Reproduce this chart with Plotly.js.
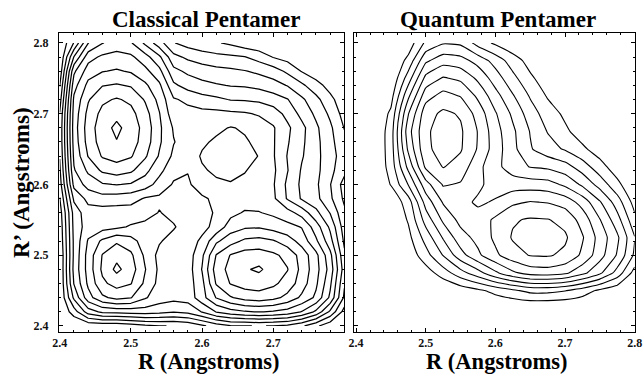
<!DOCTYPE html>
<html><head><meta charset="utf-8">
<script src="https://cdn.plot.ly/plotly-3.0.1.min.js"></script>
<style>html,body{margin:0;padding:0;background:#fff;} #chart{width:644px;height:377px;}</style>
</head><body><div id="chart"></div>
<script>
// ---- text ----
const panelTitles = ['Classical Pentamer', 'Quantum Pentamer'];
const xTitle = 'R (Angstroms)';
const yTitle = 'R’ (Angstroms)';

// ---- Classical pentamer: grid (Angstroms) and contour-level values, one row per R' ----
const classicalR = [2.40,2.42,2.44,2.46,2.48,2.50,2.52,2.54,2.56,2.58,2.60,2.62,2.64,2.66,2.68,2.70,2.72,2.74,2.76,2.78,2.80];
const c240 = [0,0,0.2,0.3,0.3,0.5,0.8,0.95,1.05,1.2,1.8,2.5,2.9,2.95,3.05,2.95,2.8,2.2,1.2,0.3,0];
const c242 = [0,1.5,3.5,4.2,4.3,4.4,4.5,4.3,4.05,4.3,5.05,6.05,6.6,6.9,7.05,6.9,6.6,5.95,4.8,2.8,0.6];
const c244 = [0,3.2,5.6,6.8,7.3,7.05,6.1,5.5,5.3,5.4,6.6,8.05,8.9,9.4,9.55,9.3,8.7,7.8,6.8,4.8,1.8];
const c246 = [0,4.05,6.2,7.8,8.35,8.05,6.8,5.7,5.4,5.5,6.7,9.1,10.05,10.4,10.5,10.2,9.6,8.5,7.2,5.2,2.1];
const c248 = [0,4.3,6.4,8.2,9.25,8.5,7.05,5.8,5.4,5.5,7.05,9.5,10.3,10.9,11.15,10.6,10.05,8.7,7.4,5.6,2.5];
const c250 = [0,4.2,6.4,8.05,8.7,8.2,6.8,5.7,5.4,5.5,6.8,9.05,10.05,10.45,10.5,10.2,9.7,8.6,7.3,5.3,2.2];
const c252 = [0.2,4.2,6.1,7.2,7.85,7.4,6.5,6.1,5.6,5.5,6.2,7.8,8.6,9.2,9.35,9.1,8.5,7.6,6.2,4.4,1.8];
const c254 = [0.3,4.3,5.5,5.6,5.8,6.1,6.3,6.3,6.1,5.5,5.7,6.3,7.5,7.85,7.9,7.6,7.3,6.95,5.5,3.8,1.5];
const c256 = [0.5,4.4,5.6,5.5,5.5,5.5,5.6,6.05,5.7,5.5,5.7,6.1,6.7,7.1,7.05,6.8,6.4,5.6,4.3,2.95,1.2];
const c258 = [0.95,5.2,6.3,6.6,6.5,6.4,5.9,5.8,5.6,5.6,5.85,6.2,6.4,6.5,6.5,6.2,4.9,3.9,3.3,2.2,0.8];
const c260 = [1.5,6.3,7.4,7.9,8.05,7.9,7.5,6.6,5.9,5.85,6.5,6.85,6.95,6.8,6.6,6.1,4.8,3.8,3.2,2.05,0.6];
const c262 = [1.8,6.9,8.2,9.2,9.5,9.2,8.3,7.3,6.3,6.05,6.9,7.15,7.2,7.05,6.7,6.2,5.05,3.9,3.3,2.3,1.3];
const c264 = [2.05,7.2,9.05,10.1,10.4,10.1,9.15,7.9,6.8,6.5,7.1,7.3,7.35,7.2,6.98,6.1,4.95,4.1,3.3,2.4,1.5];
const c266 = [2.2,7.4,9.4,10.45,10.95,10.45,9.55,8.15,7.05,6.55,6.85,7.15,7.25,7.1,6.8,6.1,5.1,4.2,3.3,2.3,1.3];
const c268 = [2.2,7.5,9.5,10.55,11.25,10.55,9.65,8.2,6.9,6.5,6.6,6.8,7.05,6.9,6.5,6.1,5.2,4.3,3.2,2.2,0.95];
const c270 = [2.05,7.4,9.3,10.3,10.7,10.3,9.4,8.05,6.4,6.3,6.3,6.3,6.2,6.1,5.9,5.5,4.7,3.7,2.8,1.8,0.6];
const c272 = [1.5,7.2,8.9,9.8,10.1,9.8,8.9,7.7,6.1,5.8,5.4,5.2,4.95,4.9,4.8,4.5,4.05,3.2,2.3,1.3,0.3];
const c274 = [0.95,6.6,8.3,8.95,9.1,8.9,8.2,7.2,5.2,4.6,4.3,4.1,3.95,3.9,3.7,3.4,2.95,2.2,1.4,0.6,0];
const c276 = [0.3,5.8,7.5,7.95,8.1,7.9,7.3,6.3,4.3,3.8,3.5,3.3,3.2,3.05,2.8,2.5,1.8,0.95,0.4,0,0];
const c278 = [0,4.05,6.6,7.2,7.4,7.2,6.4,5.2,3.3,2.8,2.5,2.3,2.2,2.05,1.6,0.95,0.6,0.2,0,0,0];
const c280 = [0,2.05,4.95,5.95,6.4,6.1,4.8,3.4,2.05,1.6,1.3,1.1,0.8,0.4,0.2,0,0,0,0,0,0];

// ---- Quantum pentamer ----
const quantumR = [2.400,2.425,2.450,2.475,2.500,2.525,2.550,2.575,2.600,2.625,2.650,2.675,2.700,2.725,2.750,2.775,2.800];
const q2400 = [0,0,0,0,0,0,0,0,0,0,0,0,0,0,0,0,0];
const q2425 = [0,0,0,0,0,0,0,0,0,0,0,0,0,0,0,0,0];
const q2450 = [0,0,0,0,0,0,0.4,0.8,1.3,1.8,2.3,2.3,2.05,1.5,0.8,0.3,0];
const q2475 = [0,0,0,0,0.5,1.5,2.6,3.6,4.8,5.8,6.4,6.5,6.2,5.3,4.2,2.6,0.6];
const q2500 = [0,0,0,0.3,1.6,3.05,4.6,5.8,6.8,7.6,8.05,8.1,7.8,6.8,5.4,3.9,1.8];
const q2525 = [0,0,0,0.7,2.4,4.1,5.6,6.3,7.2,8.1,8.45,8.4,8.15,7.1,5.6,4.2,2.05];
const q2550 = [0,0,0,1.1,3.4,5.2,6.3,6.4,7.2,7.9,8.1,8.05,7.7,6.6,5.05,3.4,1.3];
const q2575 = [0,0,0.2,1.5,4.4,6.1,6.3,5.85,6.1,6.8,7.05,6.95,6.6,5.6,4.1,2.5,0.6];
const q2600 = [0,0,1.05,3.05,5.6,7.1,6.9,6.2,5.6,5.5,5.5,5.4,4.8,3.8,2.6,1.3,0];
const q2625 = [0,0,1.4,4.3,7.2,8.05,7.6,6.3,5.3,4.5,3.95,3.8,3.4,2.5,1.4,0.4,0];
const q2650 = [0,0,1.5,5.2,7.8,8.35,8.1,6.9,5.5,4.3,3.1,2.4,1.9,1.2,0.5,0,0];
const q2675 = [0,0,1.5,5.6,7.85,8.38,8.15,6.95,5.4,4.2,2.95,1.95,1.2,0.5,0.1,0,0];
const q2700 = [0,0,1.2,4.95,7.6,8.2,7.9,6.6,5.1,3.8,2.5,1.5,0.8,0.2,0,0,0];
const q2725 = [0,0,0.6,3.8,6.6,7.35,6.95,5.8,4.4,3.1,1.9,0.9,0.3,0,0,0,0];
const q2750 = [0,0,0.1,2.5,5.3,6.1,5.8,4.8,3.5,2.3,1.2,0.4,0,0,0,0,0];
const q2775 = [0,0,0,1.3,3.8,4.6,4.4,3.6,2.6,1.5,0.6,0.1,0,0,0,0,0];
const q2800 = [0,0,0,0.4,2.2,2.9,2.8,1.6,0.8,0.2,0,0,0,0,0,0,0];

const classicalZ = [c240,c242,c244,c246,c248,c250,c252,c254,c256,c258,c260,c262,c264,c266,c268,c270,c272,c274,c276,c278,c280];
const quantumZ = [q2400,q2425,q2450,q2475,q2500,q2525,q2550,q2575,q2600,q2625,q2650,q2675,q2700,q2725,q2750,q2775,q2800];

const black = [[0,'#000'],[1,'#000']];
const traces = [
  {type:'contour', x:classicalR, y:classicalR, z:classicalZ, xaxis:'x', yaxis:'y',
   autocontour:false, contours:{coloring:'lines', start:1, end:11, size:1, showlabels:false},
   line:{width:1.25, smoothing:0}, colorscale:black, showscale:false, hoverinfo:'skip'},
  {type:'contour', x:quantumR, y:quantumR, z:quantumZ, xaxis:'x2', yaxis:'y2',
   autocontour:false, contours:{coloring:'lines', start:1, end:8, size:1, showlabels:false},
   line:{width:1.1, smoothing:0.4}, colorscale:black, showscale:false, hoverinfo:'skip'}
];

const serif = 'Liberation Serif, Times New Roman, serif';
const axisBase = {
  showline:true, mirror:'allticks', linecolor:'#000', linewidth:1,
  ticks:'inside', ticklen:4, tickwidth:1, tickcolor:'#000',
  tickmode:'linear', tick0:2.4, dtick:0.1,
  minor:{ticks:'inside', ticklen:2, tickcolor:'#000', dtick:0.02},
  showgrid:false, zeroline:false, ticklabeloverflow:'allow',
  tickfont:{family:serif, size:12, weight:'bold', color:'#111'}
};
const yRange = [2.3915, 2.814];
const layout = {
  width:644, height:377, margin:{l:0,r:0,t:0,b:0},
  paper_bgcolor:'#fff', plot_bgcolor:'#fff', showlegend:false,
  xaxis: Object.assign({}, axisBase, {domain:[0.0916,0.5342], range:[2.399,2.7995], anchor:'y'}),
  yaxis: Object.assign({}, axisBase, {domain:[0.1194,0.9125], range:yRange, anchor:'x', ticklabelstandoff:7}),
  xaxis2: Object.assign({}, axisBase, {domain:[354/644, 635/644], range:[2.397,2.8005], anchor:'y2'}),
  yaxis2: Object.assign({}, axisBase, {domain:[0.1194,0.9125], range:yRange, anchor:'x2', showticklabels:false}),
  annotations: [
    {text:'<b>'+panelTitles[0]+'</b>', xref:'paper', yref:'paper', x:206/644, y:1-20/377, xanchor:'center', yanchor:'middle', showarrow:false, font:{family:serif, size:23, color:'#000'}},
    {text:'<b>'+panelTitles[1]+'</b>', xref:'paper', yref:'paper', x:498/644, y:1-20/377, xanchor:'center', yanchor:'middle', showarrow:false, font:{family:serif, size:23, color:'#000'}},
    {text:'<b>'+xTitle+'</b>', xref:'paper', yref:'paper', x:208/644, y:1-361/377, xanchor:'center', yanchor:'middle', showarrow:false, font:{family:serif, size:22.5, color:'#000'}},
    {text:'<b>'+xTitle+'</b>', xref:'paper', yref:'paper', x:496/644, y:1-361/377, xanchor:'center', yanchor:'middle', showarrow:false, font:{family:serif, size:22.5, color:'#000'}},
    {text:'<b>'+yTitle+'</b>', xref:'paper', yref:'paper', x:21/644, y:1-183/377, xanchor:'center', yanchor:'middle', textangle:-90, showarrow:false, font:{family:serif, size:23, color:'#000'}}
  ]
};
Plotly.newPlot('chart', traces, layout, {staticPlot:true, displayModeBar:false});
</script>
</body></html>
